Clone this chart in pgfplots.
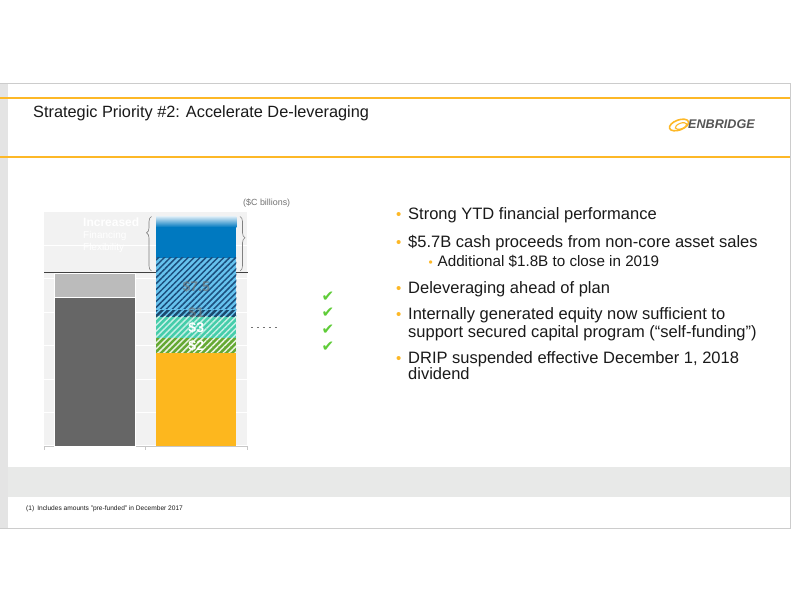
\documentclass[border=0pt]{standalone}
\usepackage{pgfplots}
\pgfplotsset{compat=1.18}
\usepackage{fontspec}
\setmainfont{Liberation Sans}
\newfontfamily\dejavu{DejaVu Sans}
\usetikzlibrary{patterns,patterns.meta,decorations.pathreplacing}

\definecolor{enborange}{HTML}{FDB827}
\definecolor{framegray}{HTML}{E4E4E4}
\definecolor{bandgray}{HTML}{E8E9E8}
\definecolor{plotbg}{HTML}{F2F2F2}
\definecolor{darkbar}{HTML}{666666}
\definecolor{lightbar}{HTML}{BBBBBB}
\definecolor{enbyellow}{HTML}{FDB71E}
\definecolor{enbgreen}{HTML}{64A832}
\definecolor{enbteal}{HTML}{45CDAA}
\definecolor{enbnavy}{HTML}{1B4A6E}
\definecolor{enblight}{HTML}{66C2EE}
\definecolor{enbhatch}{HTML}{1C4F7E}
\definecolor{enbblue}{HTML}{0079C0}
\definecolor{checkgreen}{HTML}{5FCC38}
\definecolor{txt}{HTML}{1A1A1A}
\definecolor{logogray}{HTML}{555555}

\newcommand{\fs}[1]{\fontsize{#1bp}{#1bp}\selectfont}

\begin{document}
\begin{tikzpicture}[x=1bp,y=1bp]
\useasboundingbox (0,0) rectangle (792,612);
\fill[white] (0,0) rectangle (792,612);
% slide frame
\fill[framegray] (0,84) rectangle (8,529);
\draw[black!20, line width=0.8] (0,529) -- (791,529);
\draw[black!20, line width=0.8] (0,84) -- (791,84);
\draw[black!20, line width=0.8] (790.6,84) -- (790.6,529);
\draw[enborange, line width=1.2] (0,514) -- (790,514);
\draw[enborange, line width=1.2] (0,455) -- (790,455);
\fill[bandgray] (8,115) rectangle (790,145);

% title
\node[anchor=base west, inner sep=0, text=txt] at (33,494.3) {\fs{16.3}Strategic Priority \#2: Accelerate De-leveraging};

% logo
\draw[enborange, line width=1.6, rotate around={20:(679,487)}] (679,487) ellipse (10 and 5);
\draw[enborange, line width=1.1, rotate around={20:(681,486)}] (681,486) ellipse (6 and 2.8);
\node[anchor=base west, inner sep=0, text=logogray] at (688,483) {\fs{12.6}\bfseries\itshape ENBRIDGE};

% footnote
\node[anchor=base west, inner sep=0, text=txt] at (26,101.3) {\fs{6.6}(1)\hspace{3bp}Includes amounts "pre-funded" in December 2017};

% units label
\node[anchor=base west, inner sep=0, text=black!55] at (243,406.3) {\fs{8.9}(\$C billions)};

% chart
\begin{axis}[
  at={(44bp,166bp)}, anchor=south west,
  scale only axis, width=203bp, height=234bp,
  xmin=-0.5, xmax=1.5, ymin=0, ymax=31.5,
  enlargelimits=false,
  axis background/.style={fill=plotbg},
  ybar stacked, bar width=0.79,
  axis x line*=bottom,
  axis y line*=left,
  x axis line style={draw=black!22},
  y axis line style={draw=none},
  xtick={-0.5,0.5,1.5}, xticklabels={},
  xtick style={draw=black!22},
  tick align=outside, major tick length=4bp,
  ytick={0,4.5,...,31.5}, yticklabels={},
  ytick style={draw=none},
  ymajorgrids, major grid style={white, line width=1bp},
  clip=false,
]
% left bar
\addplot[fill=darkbar, draw=white, line width=0.6] coordinates {(0,20.0) (1,0)};
\addplot[fill=lightbar, draw=white, line width=0.6] coordinates {(0,3.2) (1,0)};
% right bar
\addplot[fill=enbyellow, draw=none] coordinates {(0,0) (1,12.5)};
\addplot[fill=enbgreen, draw=none, postaction={pattern={Lines[angle=45,distance=4.2bp,line width=1.5bp]}, pattern color=white!85!enbgreen}] coordinates {(0,0) (1,2.0)};
\addplot[fill=enbteal, draw=none, postaction={pattern={Lines[angle=45,distance=4.2bp,line width=1.4bp]}, pattern color=white!70!enbteal}] coordinates {(0,0) (1,2.9)};
\addplot[fill=enbnavy, draw=none, postaction={pattern={Lines[angle=45,distance=4.2bp,line width=1.5bp]}, pattern color=enblight}] coordinates {(0,0) (1,0.95)};
\addplot[fill=enblight, draw=none, postaction={pattern={Lines[angle=45,distance=4.2bp,line width=1.5bp]}, pattern color=enbhatch}] coordinates {(0,0) (1,7.0)};
\addplot[fill=enbblue, draw=none] coordinates {(0,0) (1,4.1)};
\addplot[top color=white!85!enbblue, bottom color=enbblue, draw=none] coordinates {(0,0) (1,1.45)};

% threshold line
\draw[black!75, line width=1.2bp] (axis cs:-0.5,23.35) -- (axis cs:0.6,23.35);
\draw[black!75, line width=1.2bp] (axis cs:1.395,23.35) -- (axis cs:1.51,23.35);

% label anchors
\coordinate (L75) at (axis cs:1,21.4);
\coordinate (L1) at (axis cs:1,17.9);
\coordinate (L3) at (axis cs:1,15.9);
\coordinate (L2) at (axis cs:1,13.5);
\end{axis}

% segment labels (on top of bars)
\node[text=black!55, opacity=0.65, font=\bfseries\fs{14}] at (L75) {\$7.5};
\node[text=black!55, opacity=0.65, font=\bfseries\fs{14}] at (L1) {\$1};
\node[text=white, font=\bfseries\fs{14}] at (L3) {\$3};
\node[text=white, font=\bfseries\fs{14}] at (L2) {\$2};

% faint text
\node[anchor=north west, inner sep=0, text=white, align=left] at (83,394) {\fontsize{12bp}{12.5bp}\selectfont\bfseries Increased\\Financing\\Flexibility};

% braces
\draw[black!50, line width=0.6, decorate, decoration={brace, amplitude=5, aspect=0.7}] (151.5,341) -- (151.5,395.5);
\draw[black!50, line width=0.6, decorate, decoration={brace, amplitude=5, aspect=0.39}] (240,395.5) -- (240,341);

% dashes
\draw[black!55, line width=0.6, dash pattern=on 2 off 4] (251,285) -- (279,285);

% check marks
\foreach \yy in {315,299,282,265} {
  \node[text=checkgreen, inner sep=0] at (328,\yy) {\dejavu\fs{15}✔};
}

% bullets
\foreach \yy in {392,364.7,318.7,292,248} {
  \node[anchor=base west, inner sep=0, text=enborange] at (396,\yy) {\fs{15}•};
}
\node[anchor=base west, inner sep=0, text=enborange] at (428.5,345.3) {\fs{12}•};

\node[anchor=base west, inner sep=0, text=txt] at (408,392) {\fs{16.5}Strong YTD financial performance};
\node[anchor=base west, inner sep=0, text=txt] at (408,364.7) {\fs{16.5}\$5.7B cash proceeds from non-core asset sales};
\node[anchor=base west, inner sep=0, text=txt] at (437.5,345.3) {\fs{15.2}Additional \$1.8B to close in 2019};
\node[anchor=base west, inner sep=0, text=txt] at (408,318.7) {\fs{16.5}Deleveraging ahead of plan};
\node[anchor=base west, inner sep=0, text=txt] at (408,292) {\fs{16.5}Internally generated equity now sufficient to};
\node[anchor=base west, inner sep=0, text=txt] at (408,274.7) {\fs{16.5}support secured capital program (“self-funding”)};
\node[anchor=base west, inner sep=0, text=txt] at (408,248) {\fs{16.5}DRIP suspended effective December 1, 2018};
\node[anchor=base west, inner sep=0, text=txt] at (408,232.7) {\fs{16.5}dividend};
\end{tikzpicture}
\end{document}
